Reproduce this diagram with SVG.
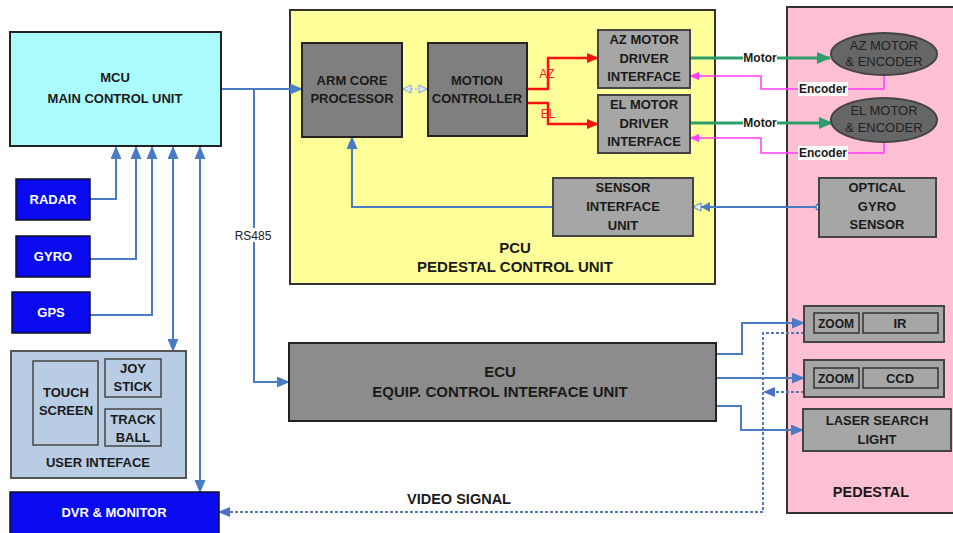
<svg xmlns="http://www.w3.org/2000/svg" width="953" height="533" viewBox="0 0 953 533">
<defs>
<style>
text{font-family:"Liberation Sans",Arial,sans-serif;text-anchor:middle}
.b{font-weight:bold;font-size:13px;fill:#1a1a1a}
.s{font-weight:bold;font-size:13px;fill:#1a1a1a}
.w{font-weight:bold;font-size:13px;fill:#ffffff}
.dk{fill:#7f7f7f;stroke:#222;stroke-width:2}
.lt{fill:#a6a6a6;stroke:#444;stroke-width:2}
.inner{fill:#a6a6a6;stroke:#333;stroke-width:1.5}
.blue{fill:#0a0aee;stroke:#112;stroke-width:1.5}
.ln{fill:none;stroke:#4a7cc6;stroke-width:2}
.dot{fill:none;stroke:#5a78b8;stroke-width:2;stroke-dasharray:3 2}
.red{fill:none;stroke:#ff1010;stroke-width:2.5}
.grn{fill:none;stroke:#2e9e68;stroke-width:3}
.mag{fill:none;stroke:#ff3cff;stroke-width:1.5}
.lbl{fill:#fff}
.el{font-size:13px;fill:#222}
</style>
<marker id="ab" markerUnits="userSpaceOnUse" markerWidth="13" markerHeight="11" refX="12" refY="5.5" orient="auto-start-reverse"><path d="M0,0 L13,5.5 L0,11 z" fill="#4a7cc6"/></marker>
<marker id="ad" markerUnits="userSpaceOnUse" markerWidth="12" markerHeight="10" refX="11" refY="5" orient="auto"><path d="M0,0 L12,5 L0,10 z" fill="#4a72c0"/></marker>
<marker id="ar" markerUnits="userSpaceOnUse" markerWidth="12" markerHeight="10" refX="11" refY="5" orient="auto"><path d="M0,0 L12,5 L0,10 z" fill="#ff1010"/></marker>
<marker id="ag" markerUnits="userSpaceOnUse" markerWidth="14" markerHeight="12" refX="13" refY="6" orient="auto"><path d="M0,0 L14,6 L0,12 z" fill="#2e9e68"/></marker>
<marker id="am" markerUnits="userSpaceOnUse" markerWidth="10" markerHeight="8" refX="9" refY="4" orient="auto"><path d="M0,0 L10,4 L0,8 z" fill="#ff3cff"/></marker>
<marker id="ao" markerUnits="userSpaceOnUse" markerWidth="10" markerHeight="10" refX="9" refY="5" orient="auto-start-reverse"><path d="M1,1 L9,5 L1,9 z" fill="#dfe9fa" stroke="#7fa4d8" stroke-width="1"/></marker>
<marker id="as" markerUnits="userSpaceOnUse" markerWidth="18" markerHeight="10" refX="17" refY="5" orient="auto"><path d="M0,0 L9,5 L0,10 z" fill="#4a7cc6"/><path d="M9,1 L17,5 L9,9 z" fill="#eef4ff" stroke="#4a7cc6" stroke-width="1"/></marker>
</defs>

<g id="pcu">
<rect x="290" y="10" width="425" height="274" fill="#ffff99" stroke="#333" stroke-width="2"/>
<text class="b" x="515" y="253" style="font-size:15px">PCU</text>
<text class="b" x="515" y="272" style="font-size:15px">PEDESTAL CONTROL UNIT</text>
</g>
<g id="pedestal">
<rect x="787" y="7" width="172" height="506" fill="#ffc0d3" stroke="#333" stroke-width="2"/>
<text class="b" x="871" y="497" style="font-size:14.5px">PEDESTAL</text>
</g>

<g id="connectors">
<path class="ln" d="M221,89 H302" marker-end="url(#ab)"/>
<path class="ln" d="M254,89 V382 H289" marker-end="url(#ab)"/>
<path class="ln" d="M90,199 H116 V147" marker-end="url(#ab)"/>
<path class="ln" d="M90,259 H136 V147" marker-end="url(#ab)"/>
<path class="ln" d="M90,315 H152 V147" marker-end="url(#ab)"/>
<path class="ln" d="M173,351 V147" marker-start="url(#ab)" marker-end="url(#ab)"/>
<path class="ln" d="M200,492 V147" marker-start="url(#ab)" marker-end="url(#ab)"/>
<path fill="none" stroke="#9fbde6" stroke-width="1.5" stroke-dasharray="2 2" d="M403,89 H427" marker-start="url(#ao)" marker-end="url(#ao)"/>
<path class="red" d="M527,89 H548 V58 H598" marker-end="url(#ar)"/>
<path class="red" d="M527,103 H548 V124 H598" marker-end="url(#ar)"/>
<path class="grn" d="M690,58 H830" marker-end="url(#ag)"/>
<path class="grn" d="M690,123 H832" marker-end="url(#ag)"/>
<path class="mag" d="M884,75 V89 H761 V76 H690" marker-end="url(#am)"/>
<path class="mag" d="M884,142 V153 H761 V138 H690" marker-end="url(#am)"/>
<path class="ln" d="M819,207 H693" marker-end="url(#as)" stroke-width="1.5"/>
<circle cx="819" cy="207" r="3" fill="#fff" stroke="#4a7cc6" stroke-width="1.5"/>
<path class="ln" d="M553,207 H352 V137" marker-end="url(#ab)"/>
<path class="ln" d="M716,354 H742 V323 H804" marker-end="url(#ab)"/>
<path class="ln" d="M716,378 H804" marker-end="url(#ab)"/>
<path class="ln" d="M716,406 H741 V430 H803" marker-end="url(#ab)"/>
<path class="dot" d="M804,333 H763 V512 H219" marker-end="url(#ad)"/>
<path class="dot" d="M804,392 H764" marker-end="url(#ad)"/>
<rect class="lbl" x="234" y="228" width="38" height="14"/>
<text x="253" y="240" font-size="12" fill="#222">RS485</text>
<text x="547" y="78" font-size="12" fill="#ff2020">AZ</text>
<text x="548" y="118" font-size="12" fill="#ff2020">EL</text>
<rect class="lbl" x="743" y="51" width="34" height="13"/>
<text class="s" x="760" y="62" style="font-size:12px">Motor</text>
<rect class="lbl" x="743" y="116" width="34" height="13"/>
<text class="s" x="760" y="127" style="font-size:12px">Motor</text>
<rect class="lbl" x="798" y="82" width="50" height="14"/>
<text class="s" x="823" y="93" style="font-size:12px">Encoder</text>
<rect class="lbl" x="798" y="146" width="50" height="14"/>
<text class="s" x="823" y="157" style="font-size:12px">Encoder</text>
<text class="b" x="459" y="504" style="font-size:14.5px">VIDEO  SIGNAL</text>
</g>

<g id="mcu">
<rect x="10" y="32" width="211" height="114" fill="#aafcfc" stroke="#222" stroke-width="2"/>
<text class="b" x="115" y="82">MCU</text>
<text class="b" x="115" y="103">MAIN CONTROL UNIT</text>
</g>
<g id="radar"><rect class="blue" x="16" y="179" width="74" height="41"/><text class="w" x="53" y="204">RADAR</text></g>
<g id="gyro"><rect class="blue" x="16" y="236" width="74" height="41"/><text class="w" x="53" y="261">GYRO</text></g>
<g id="gps"><rect class="blue" x="12" y="292" width="78" height="41"/><text class="w" x="51" y="317">GPS</text></g>
<g id="user-interface">
<rect x="11" y="351" width="175" height="127" fill="#b8cce4" stroke="#555" stroke-width="2"/>
<rect x="33" y="361" width="65" height="84" fill="#b8cce4" stroke="#444" stroke-width="1.5"/>
<text class="s" x="66" y="397">TOUCH</text>
<text class="s" x="66" y="415">SCREEN</text>
<rect x="105" y="359" width="56" height="38" fill="#b8cce4" stroke="#444" stroke-width="1.5"/>
<text class="s" x="133" y="373">JOY</text>
<text class="s" x="133" y="391">STICK</text>
<rect x="105" y="409" width="56" height="37" fill="#b8cce4" stroke="#444" stroke-width="1.5"/>
<text class="s" x="133" y="424">TRACK</text>
<text class="s" x="133" y="442">BALL</text>
<text class="s" x="98" y="467">USER INTEFACE</text>
</g>
<g id="dvr"><rect class="blue" x="10" y="492" width="209" height="46"/><text class="w" x="114" y="517">DVR &amp; MONITOR</text></g>

<g id="arm"><rect class="dk" x="302" y="43" width="100" height="94"/><text class="s" x="352" y="85">ARM CORE</text><text class="s" x="352" y="103">PROCESSOR</text></g>
<g id="motion"><rect class="dk" x="428" y="43" width="99" height="93"/><text class="s" x="477" y="85">MOTION</text><text class="s" x="477" y="103">CONTROLLER</text></g>
<g id="az-driver"><rect class="lt" x="598" y="30" width="92" height="58"/><text class="s" x="644" y="44">AZ  MOTOR</text><text class="s" x="644" y="63">DRIVER</text><text class="s" x="644" y="81">INTERFACE</text></g>
<g id="el-driver"><rect class="lt" x="598" y="95" width="92" height="58"/><text class="s" x="644" y="109">EL  MOTOR</text><text class="s" x="644" y="128">DRIVER</text><text class="s" x="644" y="146">INTERFACE</text></g>
<g id="siu"><rect class="lt" x="553" y="178" width="140" height="58"/><text class="s" x="623" y="192">SENSOR</text><text class="s" x="623" y="211">INTERFACE</text><text class="s" x="623" y="230">UNIT</text></g>
<g id="ecu"><rect x="289" y="343" width="427" height="78" fill="#8c8c8c" stroke="#222" stroke-width="2"/><text class="b" x="500" y="377" style="font-size:15px">ECU</text><text class="b" x="500" y="397" style="font-size:15px">EQUIP. CONTROL INTERFACE UNIT</text></g>

<g id="az-motor"><ellipse cx="884" cy="54" rx="53" ry="21" fill="#666" stroke="#444" stroke-width="2"/><text class="el" x="884" y="50">AZ MOTOR</text><text class="el" x="884" y="66">&amp; ENCODER</text></g>
<g id="el-motor"><ellipse cx="884" cy="120" rx="53" ry="22" fill="#666" stroke="#444" stroke-width="2"/><text class="el" x="884" y="115">EL MOTOR</text><text class="el" x="884" y="132">&amp; ENCODER</text></g>
<g id="optical-gyro"><rect class="lt" x="819" y="178" width="117" height="59"/><text class="s" x="877" y="192">OPTICAL</text><text class="s" x="877" y="211">GYRO</text><text class="s" x="877" y="229">SENSOR</text></g>
<g id="ir"><rect class="lt" x="804" y="306" width="140" height="36"/><rect class="inner" x="814" y="313" width="45" height="20"/><text class="s" x="836" y="328" style="font-size:12px">ZOOM</text><rect class="inner" x="863" y="313" width="75" height="20"/><text class="s" x="900" y="328">IR</text></g>
<g id="ccd"><rect class="lt" x="804" y="360" width="140" height="37"/><rect class="inner" x="814" y="368" width="45" height="20"/><text class="s" x="836" y="383" style="font-size:12px">ZOOM</text><rect class="inner" x="863" y="368" width="75" height="20"/><text class="s" x="900" y="383">CCD</text></g>
<g id="laser"><rect class="lt" x="803" y="409" width="148" height="42"/><text class="b" x="877" y="425">LASER SEARCH</text><text class="b" x="877" y="444">LIGHT</text></g>
</svg>
